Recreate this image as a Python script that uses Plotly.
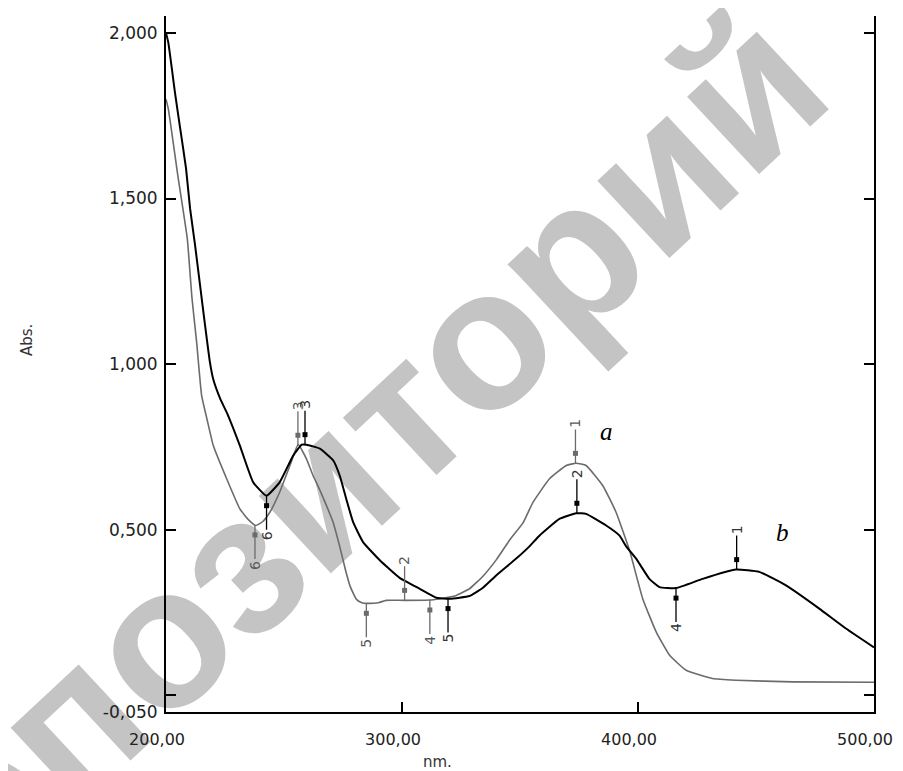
import numpy as np
import plotly.graph_objects as go

# ---- data ----
a_x = [200.0, 201.0, 205.0, 209.0, 211.0, 213.0, 215.1, 217.5, 220.0, 225.7, 231.3, 235.0, 238.0,
       241.0, 244.0, 248.2, 252.5, 256.0, 259.5, 262.3, 265.2, 268.0, 270.8, 273.6, 276.0, 278.0,
       280.7, 283.0, 285.0, 290.0, 293.3, 301.1, 311.7, 316.0, 320.2, 323.0, 328.6, 334.3, 340.0,
       345.7, 351.2, 355.5, 362.5, 369.6, 373.8, 378.0, 385.1, 390.7, 396.4, 402.0, 407.7, 413.3,
       420.4, 431.6, 441.5, 465.4, 500.0]
a_y = [1.80, 1.77, 1.57, 1.38, 1.20, 1.065, 0.905, 0.83, 0.755, 0.654, 0.563, 0.530, 0.513,
       0.525, 0.553, 0.614, 0.694, 0.757, 0.714, 0.664, 0.620, 0.573, 0.523, 0.450, 0.380, 0.330,
       0.290, 0.280, 0.278, 0.280, 0.287, 0.287, 0.288, 0.292, 0.297, 0.302, 0.322, 0.360, 0.410,
       0.470, 0.520, 0.583, 0.654, 0.694, 0.701, 0.694, 0.633, 0.553, 0.438, 0.292, 0.192, 0.122,
       0.076, 0.051, 0.046, 0.041, 0.040]

b_x = [200.0, 201.0, 203.8, 205.9, 208.5, 210.2, 212.3, 214.4, 216.5, 218.6, 220.0, 223.0, 226.0,
       231.3, 236.9, 242.6, 248.2, 253.9, 257.5, 259.5, 265.2, 270.8, 273.6, 276.5, 279.3, 283.5,
       290.6, 299.0, 307.5, 314.6, 320.2, 328.6, 334.3, 339.9, 348.4, 354.0, 358.3, 366.7, 373.8,
       378.0, 386.5, 392.1, 395.0, 399.2, 404.8, 409.1, 416.1, 427.4, 441.5, 451.4, 462.7, 476.8,
       488.1, 500.0]
b_y = [2.00, 1.97, 1.82, 1.717, 1.59, 1.47, 1.36, 1.24, 1.12, 1.006, 0.955, 0.895, 0.850,
       0.754, 0.644, 0.603, 0.644, 0.724, 0.757, 0.757, 0.745, 0.710, 0.664, 0.590, 0.523, 0.463,
       0.408, 0.355, 0.322, 0.295, 0.292, 0.300, 0.325, 0.362, 0.413, 0.450, 0.483, 0.533, 0.550,
       0.548, 0.513, 0.483, 0.450, 0.413, 0.352, 0.327, 0.324, 0.352, 0.380, 0.373, 0.332, 0.262,
       0.202, 0.145]

# peak / valley markers: wavelength, label, side (+1 label above, -1 label below)
a_mk_x = [237.7, 255.9, 284.9, 301.1, 311.8, 373.5]
a_mk_lbl = ["6", "3", "5", "2", "4", "1"]
a_mk_side = [-1, 1, -1, 1, -1, 1]
b_mk_x = [242.6, 258.9, 319.5, 374.1, 416.1, 441.8]
b_mk_lbl = ["6", "3", "5", "2", "4", "1"]
b_mk_side = [-1, 1, -1, 1, -1, 1]

curve_names = ["a", "b"]
curve_name_x = [386.6, 461.1]
curve_name_y = [0.797, 0.493]

x_ticks = [200, 300, 400, 500]
x_ticktext = ["200,00", "300,00", "400,00", "500,00"]
y_ticks = [-0.05, 0, 0.5, 1.0, 1.5, 2.0]
y_ticktext = ["-0,050", "", "0,500", "1,000", "1,500", "2,000"]

watermark = "репозиторий"

# ---- figure (page has an 8px body margin on left/top) ----
OFF = 8
W, H = 903 - OFF, 771 - OFF
ML, MR, MT, MB = 166 - OFF, 29, 16 - OFF, 59
y_range = [-0.05, 2.051]
pw, ph = W - ML - MR, H - MT - MB
px_per_unit = ph / (y_range[1] - y_range[0])


def paper_x(px):
    return (px - OFF - ML) / pw


def paper_y(py):
    return (H - MB - (py - OFF)) / ph


col_a = "#6b6b6b"
col_b = "#000000"

fig = go.Figure()
fig.add_trace(go.Scatter(x=a_x, y=a_y, mode="lines",
                         line=dict(color=col_a, width=1.6, shape="spline", smoothing=0.4),
                         hoverinfo="skip", showlegend=False))
fig.add_trace(go.Scatter(x=b_x, y=b_y, mode="lines",
                         line=dict(color=col_b, width=2.0, shape="spline", smoothing=0.4),
                         hoverinfo="skip", showlegend=False))

annotations = []
for cx, cy, mx, ml, ms, col, lcol in [
    (a_x, a_y, a_mk_x, a_mk_lbl, a_mk_side, col_a, "#5a5a5a"),
    (b_x, b_y, b_mk_x, b_mk_lbl, b_mk_side, col_b, "#333333"),
]:
    ys = np.interp(mx, cx, cy)
    sq_y = [y + s * 10 / px_per_unit for y, s in zip(ys, ms)]
    fig.add_trace(go.Scatter(x=mx, y=sq_y, mode="markers",
                             marker=dict(symbol="square", size=5, color=col),
                             hoverinfo="skip", showlegend=False))
    for x, y, t, s in zip(mx, ys, ml, ms):
        annotations.append(dict(
            x=x, y=y, xref="x", yref="y", text=t, textangle=-90,
            showarrow=True, arrowhead=0, arrowwidth=1.3, arrowcolor=col,
            ax=0, ay=-40 * s, standoff=0,
            font=dict(family="DejaVu Sans", size=14, color=lcol),
        ))

for t, x, y in zip(curve_names, curve_name_x, curve_name_y):
    annotations.append(dict(x=x, y=y, xref="x", yref="y", text="<i>" + t + "</i>", showarrow=False,
                            font=dict(family="Liberation Serif", size=25, color="#000")))

# axis titles
annotations.append(dict(x=paper_x(27), y=paper_y(340), xref="paper", yref="paper",
                        xanchor="center", yanchor="middle",
                        text="Abs.", textangle=-90, showarrow=False,
                        font=dict(family="DejaVu Sans", size=15, color="#333")))
annotations.append(dict(x=paper_x(437), y=paper_y(762), xref="paper", yref="paper",
                        xanchor="center", yanchor="middle",
                        text="nm.", showarrow=False,
                        font=dict(family="DejaVu Sans", size=15, color="#333")))

wx, wy = paper_x(310), paper_y(472)
shapes = [dict(
    type="rect", xref="paper", yref="paper", layer="below",
    x0=wx - 0.01, x1=wx + 0.01, y0=wy - 0.01, y1=wy + 0.01,
    line=dict(width=0, color="rgba(0,0,0,0)"), fillcolor="rgba(0,0,0,0)",
    label=dict(text="<b>" + watermark + "</b>", textangle=-43, textposition="middle center",
               font=dict(family="Liberation Sans", size=200, color="#c4c4c4")),
)]

fig.update_layout(
    width=W, height=H,
    margin=dict(l=ML, r=MR, t=MT, b=MB, autoexpand=False),
    paper_bgcolor="white", plot_bgcolor="rgba(0,0,0,0)",
    annotations=annotations, shapes=shapes,
    showlegend=False,
)
fig.update_xaxes(range=[200, 500], tickvals=x_ticks, ticktext=x_ticktext,
                 ticks="inside", ticklen=10, tickwidth=1.5, tickcolor="black",
                 showline=True, linecolor="black", linewidth=2, mirror=False,
                 showgrid=False, zeroline=False, ticklabelstandoff=12,
                 ticklabelshift=-9, ticklabeloverflow="allow",
                 tickfont=dict(family="DejaVu Sans", size=16, color="#222"))
fig.update_yaxes(range=y_range, tickvals=y_ticks, ticktext=y_ticktext,
                 ticks="inside", ticklen=10, tickwidth=1.5, tickcolor="black",
                 showline=True, linecolor="black", linewidth=2, mirror="ticks",
                 showgrid=False, zeroline=False, ticklabelstandoff=3,
                 ticklabeloverflow="allow",
                 tickfont=dict(family="DejaVu Sans", size=17, color="#222"))

fig.write_html("out.html")
